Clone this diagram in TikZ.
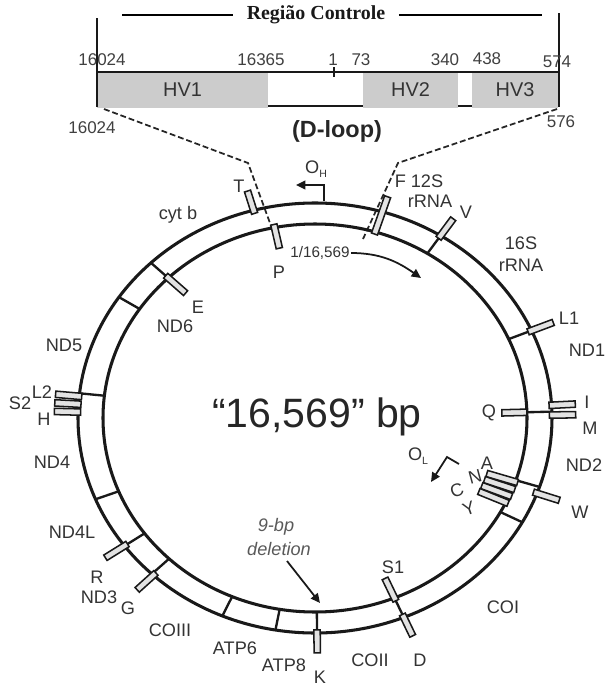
\documentclass[tikz,border=0pt]{standalone}
\usepackage{fontspec}
\setmainfont{Liberation Sans}
\newfontfamily\serifbold{Liberation Serif}
\usetikzlibrary{calc,arrows.meta}

\begin{document}
\begin{tikzpicture}[
    x=0.3mm, y=-0.3mm,
    ring/.style={line width=2.6pt, draw=black!90},
    bound/.style={line width=2pt, draw=black!90},
    trna/.style={line width=1.3pt, draw=black!90, fill=gray!22},
    lbl/.style={font=\fontsize{15.5}{18}\selectfont, text=black!80, inner sep=0pt},
    numlbl/.style={font=\fontsize{14.5}{17}\selectfont, text=black!75, inner sep=0pt},
    hvbox/.style={fill=gray!40, minimum height=10.8mm, inner sep=0pt, font=\fontsize{17}{20}\selectfont, text=black!80},
    barline/.style={line width=1.8pt, draw=black!90},
    zoomline/.style={line width=1.5pt, draw=black!85, dash pattern=on 5pt off 2.5pt},
    ori/.style={line width=1.5pt, draw=black!90, -{Triangle[length=2.8mm, width=2.6mm]}}
]
    \useasboundingbox (0,0) rectangle (606,686);

    % --- Control region bar along the top ---
    \node[font=\serifbold\bfseries\fontsize{17}{20}\selectfont, text=black!90, inner xsep=4mm, inner ysep=0pt] (regiao) at (316,15) {Região Controle};
    \draw[line width=1pt] (122,15) -- (regiao.west);
    \draw[line width=1pt] (regiao.east) -- (542,15);

    \node[hvbox, minimum width=51.3mm] (hv1) at (182.5,90) {HV1};
    \node[hvbox, minimum width=28.5mm] (hv2) at (410.5,90) {HV2};
    \node[hvbox, minimum width=25.8mm] (hv3) at (515,90) {HV3};
    \draw[barline] (97,18) -- (97,107);
    \draw[barline] (559,13) -- (559,107);
    \draw[barline] (97,72) -- (559,72);
    \draw[barline] ([yshift=0.6mm]hv1.south east) -- ([yshift=0.6mm]hv2.south west);
    \draw[barline] ([yshift=0.6mm]hv2.south east) -- ([yshift=0.6mm]hv3.south west);
    \draw[barline] (334,67) -- (334,77);

    \foreach \x/\y/\t in {102/60/16024, 261/60/16365, 333/60/1, 361/60/73, 445/60/340, 487/59/438, 557/62/574}
        \node[numlbl] (top\t) at (\x,\y) {\t};
    \node[numlbl] (bot16024) at (92,128) {16024};
    \node[numlbl] (bot576) at (561,122) {576};
    \node[font=\bfseries\fontsize{20}{24}\selectfont, text=black!85, inner sep=0pt] (dloop) at (337,131) {(D-loop)};

    % zoom lines down to the genome
    \coordinate (zl0) at (104,109); \coordinate (zl1) at (248,163); \coordinate (zl2) at (274,234);
    \coordinate (zr0) at (557,109); \coordinate (zr1) at (398,163); \coordinate (zr2) at (363,239);
    \draw[zoomline] (zl0) -- (zl1) -- (zl2);
    \draw[zoomline] (zr0) -- (zr1) -- (zr2);

    % --- The circular genome ---
    \coordinate (c) at (315,418);
    \draw[ring] (c) ellipse [x radius=71.1mm, y radius=64.5mm];
    \draw[ring] (c) ellipse [x radius=63.6mm, y radius=58.2mm];

    % gene boundaries
    \foreach \a in {58, 24, 1.7, -18.7, -29, -68, -89.5, -99.6, -113, -133.5, -143.5, -157.8, 173.4, 145.8, 133.8}
        \draw[bound] ({315+212*cos(\a)}, {418-194*sin(\a)}) -- ({315+237*cos(\a)}, {418-215*sin(\a)});

    % tRNA genes (angle / from / to, across the ring)
    \foreach \a/\ta/\tb in {105/0.85/1.95, 58/0.85/1.95, 24/0.85/1.95, 3.4/0.9/1.95, 0.8/0.9/1.95,
                            -20.5/0.85/1.95, -68/0.85/1.95, -89.5/0.85/1.95, -133/0.85/1.95, -143.5/0.85/1.95,
                            174.2/0.9/1.95, 176.3/0.9/1.95, 178.4/0.9/1.95,
                            101/-1/0.15, 1.7/-1/0, -19.2/-1.2/0.1, -21.4/-1.2/0.1, -23.6/-1.2/0.1, -25.8/-1.2/0.1,
                            -68/-1/0.15, 133.8/-1/0.15, 73.5/-0.1/1.75} {
        \coordinate (rin) at ({315+212*cos(\a)}, {418-194*sin(\a)});
        \coordinate (rout) at ({315+237*cos(\a)}, {418-215*sin(\a)});
        \coordinate (m1) at ($(rin)!\ta!(rout)$);
        \coordinate (m2) at ($(rin)!\tb!(rout)$);
        \draw[trna] ($(m1)!0.95mm!90:(m2)$) -- ($(m2)!0.95mm!-90:(m1)$) -- ($(m2)!0.95mm!90:(m1)$) -- ($(m1)!0.95mm!-90:(m2)$) -- cycle;
    }

    % origins of replication
    \node[lbl] (oh) at (316,169) {O\raisebox{-0.45ex}{\fontsize{9}{9}\selectfont H}};
    \coordinate (oh1) at (324,201); \coordinate (oh2) at (324,185); \coordinate (oh3) at (296,185);
    \draw[ori] (oh1) -- (oh2) -- (oh3);
    \node[lbl] (ol) at (418,456) {O\raisebox{-0.45ex}{\fontsize{9}{9}\selectfont L}};
    \coordinate (ol1) at (459,464); \coordinate (ol2) at (447,457); \coordinate (ol3) at (431,482);
    \draw[ori] (ol1) -- (ol2) -- (ol3);

    \node[font=\fontsize{13}{15}\selectfont, text=black!80, inner sep=1pt] (start) at (320,253) {1/16,569};
    \coordinate (startend) at (421,278);
    \draw[ori] (start.east) to[out=0, in=145] (startend);

    \node[font=\fontsize{35}{40}\selectfont, text=black!85, inner sep=0pt, anchor=base] (bp) at (317,427) {“16,569” bp};

    \node[font=\itshape\fontsize{15.5}{18}\selectfont, text=black!65, inner sep=0pt] (del9) at (276,527) {9-bp};
    \node[font=\itshape\fontsize{15.5}{18}\selectfont, text=black!65, inner sep=0pt] (dele) at (279,549) {deletion};
    \coordinate (delstart) at (287,561); \coordinate (delend) at (320,603);
    \draw[ori] (delstart) -- (delend);

    % gene and tRNA labels
    \node[lbl] (cytb) at (178,215) {cyt b};
    \node[lbl] (tT) at (239,186) {T};
    \node[lbl] (tP) at (279,272) {P};
    \node[lbl] (r12s) at (419,181) {F 12S};
    \node[lbl] (r12rna) at (430,201) {rRNA};
    \node[lbl] (tV) at (466,212) {V};
    \node[lbl] (r16s) at (521,243) {16S};
    \node[lbl] (r16rna) at (521,265) {rRNA};
    \node[lbl] (tL1) at (569,318) {L1};
    \node[lbl] (nd1) at (587,350) {ND1};
    \node[lbl] (tQ) at (489,413) {Q};
    \node[lbl] (tI) at (587,402) {I};
    \node[lbl] (tM) at (590,428) {M};
    \node[lbl] (nd2) at (584,465) {ND2};
    \node[lbl] (tA) at (487,463) {A};
    \node[lbl, rotate=15] (tN) at (475,477) {N};
    \node[lbl, rotate=20] (tC) at (457,490) {C};
    \node[lbl, rotate=20] (tY) at (469,509) {Y};
    \node[lbl] (tW) at (580,512) {W};
    \node[lbl] (coi) at (503,607) {COI};
    \node[lbl] (tS1) at (393,567) {S1};
    \node[lbl] (tD) at (420,660) {D};
    \node[lbl] (coii) at (370,660) {COII};
    \node[lbl] (tK) at (320,677) {K};
    \node[lbl] (atp8) at (284,665) {ATP8};
    \node[lbl] (atp6) at (235,648) {ATP6};
    \node[lbl] (coiii) at (170,630) {COIII};
    \node[lbl] (tG) at (128,608) {G};
    \node[lbl] (nd3) at (99,597) {ND3};
    \node[lbl] (tR) at (97,577) {R};
    \node[lbl] (nd4l) at (72,532) {ND4L};
    \node[lbl] (nd4) at (52,462) {ND4};
    \node[lbl] (tH) at (44,419) {H};
    \node[lbl] (tS2) at (20,403) {S2};
    \node[lbl] (tL2) at (42,392) {L2};
    \node[lbl] (nd5) at (64,345) {ND5};
    \node[lbl] (nd6) at (175,326) {ND6};
    \node[lbl] (tE) at (198,307) {E};

\end{tikzpicture}
\end{document}
